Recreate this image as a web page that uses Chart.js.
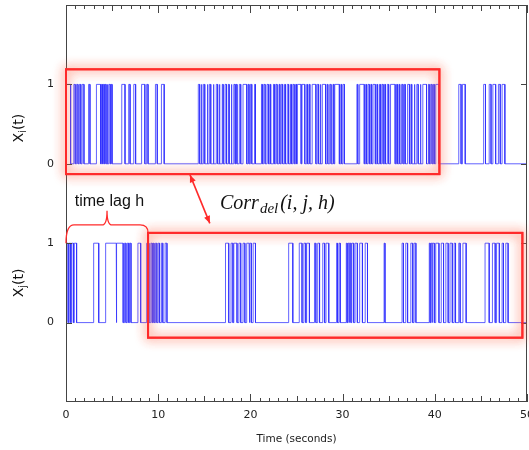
<!DOCTYPE html>
<html>
<head>
<meta charset="utf-8">
<script src="https://cdn.jsdelivr.net/npm/chart.js@4.4.1/dist/chart.umd.min.js"></script>
<style>
  html, body { margin: 0; padding: 0; background: #fff; }
</style>
</head>
<body>
<canvas id="chart" width="529" height="450"></canvas>
<script>
// pulse edges in seconds (signal goes 0 -> 1 at rise, 1 -> 0 at fall)
const xiRise = [0.0, 0.85, 1.15, 1.45, 1.75, 2.45, 3.3, 3.85, 4.05, 4.25, 4.45, 4.65, 4.9, 6.05, 6.8, 7.35, 8.2, 8.75, 9.7, 10.35,
  14.35, 14.65, 14.9, 15.3, 15.55, 15.95, 16.3, 16.6, 16.95, 17.25, 17.6, 17.9, 18.2, 18.45, 18.8, 19.2, 19.75, 20.0, 20.45,
  21.2, 21.45, 21.8, 22.1, 22.5, 22.75, 23.1, 23.35, 23.7, 24.0, 24.35, 24.6, 24.9,
  25.1, 25.6, 26.1, 26.35, 26.7, 27.25, 27.55, 27.8, 28.3, 28.6, 28.95, 29.15, 29.8, 30.05,
  31.55, 31.85, 32.5, 32.75, 33.05, 33.3, 33.7, 34.0, 34.25, 34.55, 34.85, 35.2, 35.85, 36.1, 36.4, 36.7, 37.05, 37.4,
  37.75, 38.05, 38.4, 38.7, 39.3, 39.55, 39.85, 40.1,
  42.6, 43.0, 45.3, 45.9, 46.3, 46.9, 47.3];
const xiFall = [0.5, 1.0, 1.3, 1.6, 1.95, 2.6, 3.75, 3.95, 4.15, 4.35, 4.55, 4.8, 5.0, 6.4, 6.95, 7.55, 8.55, 8.9, 9.9, 10.65,
  14.5, 14.75, 15.05, 15.4, 15.7, 16.05, 16.45, 16.7, 17.05, 17.4, 17.7, 18.0, 18.35, 18.55, 18.95, 19.6, 19.85, 20.15, 20.55,
  21.3, 21.6, 21.95, 22.2, 22.6, 22.9, 23.2, 23.5, 23.8, 24.15, 24.45, 24.75, 25.0,
  25.5, 25.9, 26.2, 26.45, 27.1, 27.4, 27.65, 28.15, 28.4, 28.75, 29.05, 29.65, 29.9, 30.2,
  31.65, 32.35, 32.6, 32.9, 33.15, 33.55, 33.8, 34.1, 34.4, 34.65, 35.0, 35.7, 35.95, 36.2, 36.55, 36.8, 37.25, 37.5,
  37.85, 38.2, 38.5, 39.1, 39.4, 39.7, 39.95, 40.45,
  42.85, 43.3, 45.5, 46.1, 46.6, 47.1, 47.6];

const xjRise = [0.1, 0.35, 0.6, 0.9, 3.0, 4.3, 5.5, 6.35, 6.65, 6.9, 7.8, 8.75, 9.2, 9.45, 9.7, 10.0, 10.35, 10.75,
  17.3, 17.9, 18.2, 18.75, 19.2, 19.6, 19.95, 20.3,
  24.15, 25.3, 25.8, 26.1, 26.95, 27.3, 27.85, 28.2, 29.35, 29.6, 30.4, 30.6, 30.75, 31.0, 31.35, 31.85, 32.45,
  34.5, 36.45, 36.85, 37.4, 37.75, 39.4, 39.6, 39.75, 40.1, 40.7, 41.2, 41.65, 42.1, 42.6, 43.05,
  45.45, 46.25, 46.7, 47.3, 47.7];
const xjFall = [0.25, 0.5, 0.8, 1.15, 3.55, 5.45, 6.2, 6.5, 6.8, 7.05, 8.1, 9.0, 9.35, 9.55, 9.85, 10.15, 10.5, 10.95,
  17.65, 18.1, 18.55, 18.95, 19.4, 19.85, 20.1, 20.55,
  24.6, 25.6, 26.0, 26.4, 27.1, 27.5, 28.05, 28.5, 29.45, 29.75, 30.5, 30.7, 30.9, 31.2, 31.6, 32.15, 32.7,
  34.6, 36.6, 37.05, 37.6, 37.95, 39.5, 39.7, 39.95, 40.45, 40.95, 41.45, 41.9, 42.25, 42.75, 43.4,
  45.9, 46.55, 47.0, 47.45, 47.95];

const tMax = 50;
const yTicks = [0, 1, 2, 3];           // bottom trace sits on 0..1, top trace on 2..3
const yTickText = ['0', '1', '0', '1'];
const xiOffset = 2;

// turn rise/fall lists into the corner points of a square wave
function toSteps(rise, fall, base) {
  const pts = [{ x: 0, y: base }];
  rise.forEach((r, k) => {
    pts.push({ x: r, y: base }, { x: r, y: base + 1 }, { x: fall[k], y: base + 1 }, { x: fall[k], y: base });
  });
  pts.push({ x: tMax, y: base });
  return pts;
}

const axisColor = '#444';
const red = '#ff2a2a';

// frame, inward ticks and the red annotations
const decor = {
  id: 'decor',
  afterDatasetsDraw(chart) {
    const ctx = chart.ctx;
    const xs = chart.scales.x, ys = chart.scales.y;
    const a = chart.chartArea;
    const px = t => xs.getPixelForValue(t);
    const py = v => ys.getPixelForValue(v);

    ctx.save();
    ctx.strokeStyle = axisColor;
    ctx.lineWidth = 1;
    ctx.strokeRect(a.left + 0.5, a.top + 0.5, a.right - a.left - 1, a.bottom - a.top - 1);
    ctx.beginPath();
    for (let t = 0; t <= tMax; t++) {
      const x = Math.round(px(t)) + 0.5;
      const len = t % 10 === 0 ? 8 : (t % 5 === 0 ? 6 : 4);
      ctx.moveTo(x, a.bottom); ctx.lineTo(x, a.bottom - len);
      ctx.moveTo(x, a.top); ctx.lineTo(x, a.top + len);
    }
    yTicks.forEach(v => {
      const y = Math.round(py(v)) + 0.5;
      ctx.moveTo(a.left, y); ctx.lineTo(a.left + 6, y);
      ctx.moveTo(a.right, y); ctx.lineTo(a.right - 6, y);
    });
    ctx.stroke();

    // glowing boxes
    ctx.strokeStyle = red;
    ctx.lineWidth = 2;
    ctx.shadowColor = 'rgba(255,110,80,0.9)';
    ctx.shadowBlur = 11;
    const box = (t0, t1, v0, v1) => {
      ctx.strokeRect(px(t0), py(v0), px(t1) - px(t0), py(v1) - py(v0));
    };
    box(0, 40.5, 3.19, 1.87);
    box(0, 40.5, 3.19, 1.87);
    box(8.9, 49.5, 1.13, -0.19);
    box(8.9, 49.5, 1.13, -0.19);
    ctx.shadowBlur = 0;

    // brace for the time lag
    const xa = px(0), xb = px(8.9), xm = px(4.45);
    const ym = py(1.23), yp = py(1.41);
    ctx.lineWidth = 1.3;
    ctx.beginPath();
    ctx.moveTo(xa, py(1.0));
    ctx.quadraticCurveTo(xa, ym, xa + 8, ym);
    ctx.lineTo(xm - 5, ym);
    ctx.quadraticCurveTo(xm, ym, xm, yp);
    ctx.quadraticCurveTo(xm, ym, xm + 5, ym);
    ctx.lineTo(xb - 8, ym);
    ctx.quadraticCurveTo(xb, ym, xb, py(1.13));
    ctx.stroke();

    // double arrow between the boxes
    const ax0 = px(13.45), ay0 = py(1.86), ax1 = px(15.6), ay1 = py(1.25);
    const ang = Math.atan2(ay1 - ay0, ax1 - ax0);
    ctx.lineWidth = 1.6;
    ctx.beginPath();
    ctx.moveTo(ax0, ay0); ctx.lineTo(ax1, ay1);
    ctx.stroke();
    ctx.fillStyle = red;
    [[ax0, ay0, ang + Math.PI], [ax1, ay1, ang]].forEach(([hx, hy, d]) => {
      ctx.beginPath();
      ctx.moveTo(hx, hy);
      ctx.lineTo(hx - 8 * Math.cos(d - 0.4), hy - 8 * Math.sin(d - 0.4));
      ctx.lineTo(hx - 8 * Math.cos(d + 0.4), hy - 8 * Math.sin(d + 0.4));
      ctx.closePath();
      ctx.fill();
    });

    // texts
    ctx.fillStyle = '#111';
    ctx.textBaseline = 'alphabetic';
    ctx.textAlign = 'left';
    ctx.font = '16px "Liberation Sans", Arial, sans-serif';
    ctx.fillText('time lag h', px(0.95), py(1.47));

    let cx = px(16.7);
    const cy = py(1.43);
    ctx.font = 'italic 20px "Liberation Serif", serif';
    ctx.fillText('Corr', cx, cy);
    cx += ctx.measureText('Corr').width + 1;
    ctx.font = 'italic 15px "Liberation Serif", serif';
    ctx.fillText('del', cx, cy + 4);
    cx += ctx.measureText('del').width + 2;
    ctx.font = 'italic 20px "Liberation Serif", serif';
    ctx.fillText('(i, j, h)', cx, cy);

    // rotated y titles
    const yTitle = (sub, v) => {
      ctx.save();
      ctx.translate(23, py(v));
      ctx.rotate(-Math.PI / 2);
      ctx.font = '14px "DejaVu Sans", sans-serif';
      const w1 = ctx.measureText('X').width;
      const w3 = ctx.measureText('(t)').width;
      ctx.font = '10px "DejaVu Sans", sans-serif';
      const w2 = ctx.measureText(sub).width;
      let x0 = -(w1 + w2 + w3) / 2;
      ctx.font = '14px "DejaVu Sans", sans-serif';
      ctx.fillText('X', x0, 0);
      ctx.font = '10px "DejaVu Sans", sans-serif';
      ctx.fillText(sub, x0 + w1, 3);
      ctx.font = '14px "DejaVu Sans", sans-serif';
      ctx.fillText('(t)', x0 + w1 + w2, 0);
      ctx.restore();
    };
    yTitle('i', 2.45);
    yTitle('j', 0.5);
    ctx.restore();
  }
};

const traceColor = 'rgba(45,45,255,0.75)';

new Chart(document.getElementById('chart'), {
  type: 'line',
  data: {
    datasets: [
      { data: toSteps(xiRise, xiFall, xiOffset), borderColor: traceColor, borderWidth: 1, pointRadius: 0, tension: 0 },
      { data: toSteps(xjRise, xjFall, 0), borderColor: traceColor, borderWidth: 1, pointRadius: 0, tension: 0 }
    ]
  },
  options: {
    responsive: false,
    animation: false,
    layout: { padding: { top: 5, right: 2, left: 0, bottom: 0 } },
    plugins: {
      legend: { display: false },
      tooltip: { enabled: false },
      title: {
        display: false
      }
    },
    scales: {
      x: {
        type: 'linear',
        min: 0,
        max: tMax,
        ticks: { stepSize: 10, padding: 7, color: '#222', font: { family: '"DejaVu Sans", sans-serif', size: 11 }, maxRotation: 0 },
        grid: { display: false, drawTicks: false },
        border: { display: false },
        title: { display: true, text: 'Time (seconds)', color: '#222', font: { family: '"DejaVu Sans", sans-serif', size: 10.5 }, padding: { top: 6 } },
        afterFit(s) { s.height = 48; s.paddingLeft = 0; s.paddingRight = 0; }
      },
      y: {
        min: -1,
        max: 4,
        afterBuildTicks(s) { s.ticks = yTicks.map(v => ({ value: v })); },
        ticks: {
          padding: 12,
          color: '#222',
          font: { family: '"DejaVu Sans", sans-serif', size: 11 },
          callback: v => yTickText[yTicks.indexOf(v)] ?? ''
        },
        grid: { display: false, drawTicks: false },
        border: { display: false },
        afterFit(s) { s.width = 66; s.paddingTop = 0; s.paddingBottom = 0; }
      }
    }
  },
  plugins: [decor]
});
</script>
</body>
</html>
